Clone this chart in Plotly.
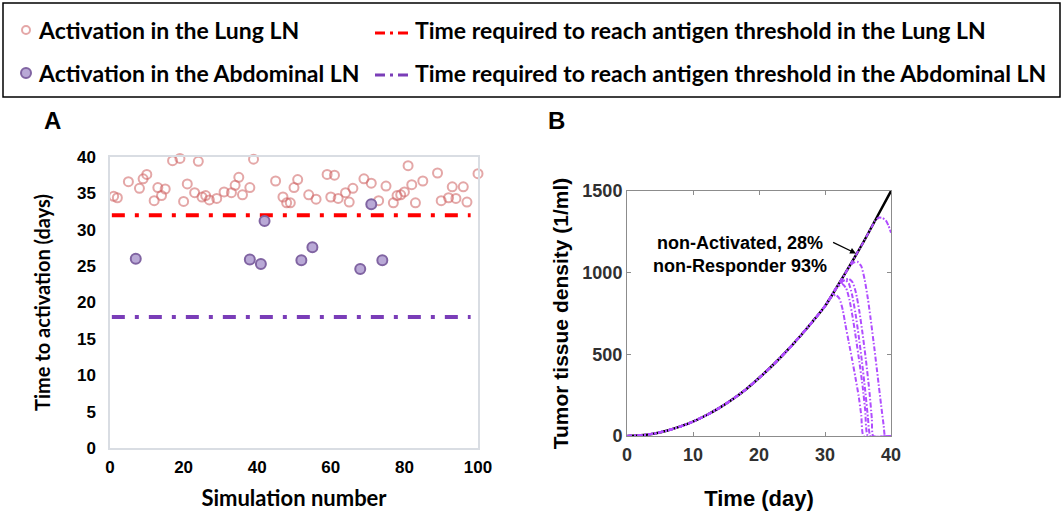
import plotly.graph_objects as go

W, H = 1063, 515

# ---------------- Panel A data ----------------
lung_sim = [1, 2, 5, 8, 9, 10, 12, 13, 14, 15, 17, 19, 20, 21, 23, 24, 25, 26, 27, 29,
            31, 33, 34, 35, 36, 38, 39, 45, 47, 48, 49, 50, 51, 54, 56, 59, 60, 61, 62, 64,
            65, 66, 69, 71, 73, 75, 77, 78, 79, 80, 81, 82, 83, 85, 89, 90, 92, 93, 94, 96,
            97, 100]
lung_days = [34.6, 34.4, 36.6, 35.7, 37.0, 37.6, 34.0, 35.8, 34.7, 35.6,
             39.5, 39.8, 33.9, 36.3, 35.1, 39.4, 34.5, 34.7, 34.1, 34.3,
             35.2, 35.1, 36.1, 37.2, 34.8, 35.8, 39.7, 36.7, 34.5, 33.7,
             33.7, 35.8, 36.9, 34.8, 34.2, 37.6, 34.5, 37.5, 34.3, 35.1,
             33.8, 35.7, 37.0, 36.4, 34.0, 36.0, 33.7, 34.7, 34.8, 35.2,
             38.8, 36.2, 33.7, 36.7, 37.8, 34.0, 34.4, 35.9, 34.3, 35.9,
             33.8, 37.7]
abd_sim = [7, 38, 41, 42, 52, 55, 68, 71, 74]
abd_days = [26.0, 25.9, 25.3, 31.2, 25.8, 27.6, 24.6, 33.5, 25.8]
threshold_sim = [0.5, 98]
lung_threshold = 32
abd_threshold = 18

# ---------------- Panel B data ----------------
time_black = [0, 2, 4, 6, 8, 10, 12, 14, 16, 18, 20, 22, 24, 26, 28, 30, 32, 34, 36, 38, 40]
tumor_black = [0, 4, 14, 32, 57, 88, 127, 172, 225, 285, 355, 430, 512, 600, 695, 795,
               925, 1060, 1200, 1350, 1500]
# responder curves: shared growth (t <= 30) then individual tails
tail_a_t = [30.5, 31.0, 31.6, 32.2, 32.7, 33.1, 33.6, 34.1, 34.6, 35.1, 35.5, 35.85, 40]
tail_a_v = [825, 850, 865, 840, 770, 680, 575, 470, 360, 245, 125, 0, 0]
tail_b_t = [31.0, 31.6, 32.6, 33.2, 33.7, 34.2, 34.7, 35.2, 35.7, 36.1, 36.5, 40]
tail_b_v = [860, 900, 930, 905, 835, 725, 595, 455, 305, 155, 0, 0]
tail_c_t = [31.0, 31.8, 32.4, 33.1, 33.6, 34.1, 34.6, 35.1, 35.6, 36.1, 36.5, 36.9, 40]
tail_c_v = [860, 910, 940, 955, 935, 865, 755, 615, 455, 275, 115, 0, 0]
tail_d_t = [31.5, 32.2, 32.9, 33.6, 34.2, 34.7, 35.2, 35.7, 36.2, 36.7, 37.1, 37.3, 40]
tail_d_v = [895, 930, 955, 962, 940, 875, 765, 625, 465, 285, 105, 0, 0]
tail_e_t = [32.0, 33.0, 33.6, 34.2, 34.9, 35.5, 36.0, 36.5, 36.9, 37.5, 38.0, 38.5, 38.9, 39.1, 40]
tail_e_v = [925, 990, 1030, 1058, 1067, 1040, 960, 840, 722, 530, 360, 190, 60, 0, 0]
tail_f_t = [32, 34, 36, 37.0, 37.6, 38.2, 38.7, 39.2, 39.6, 40]
tail_f_v = [925, 1060, 1200, 1275, 1318, 1338, 1335, 1320, 1290, 1245]
tails = [(tail_a_t, tail_a_v), (tail_b_t, tail_b_v), (tail_c_t, tail_c_v),
         (tail_d_t, tail_d_v), (tail_e_t, tail_e_v), (tail_f_t, tail_f_v)]

LUNG_C = "rgba(205,95,95,0.55)"
ABD_LINE = "#8064a2"
ABD_FILL = "#b9a9d6"
RED = "#ff0000"
PURPLE = "#7a3db8"
VIOLET = "#b04dff"
A_DASH = "13px,10px,4px,10px"
ARIAL = "Arial, Liberation Sans"


def px(x):
    return x / W


def py(y):
    return 1 - y / H


fig = go.Figure()

# Panel A
fig.add_trace(go.Scatter(x=threshold_sim, y=[lung_threshold] * 2, mode="lines",
                         line=dict(color=RED, width=4, dash=A_DASH),
                         xaxis="x", yaxis="y", showlegend=False))
fig.add_trace(go.Scatter(x=threshold_sim, y=[abd_threshold] * 2, mode="lines",
                         line=dict(color=PURPLE, width=4, dash=A_DASH),
                         xaxis="x", yaxis="y", showlegend=False))
fig.add_trace(go.Scatter(x=lung_sim, y=lung_days, mode="markers",
                         marker=dict(symbol="circle-open", size=9, color=LUNG_C,
                                     line=dict(width=2, color=LUNG_C)),
                         cliponaxis=False, xaxis="x", yaxis="y", showlegend=False))
fig.add_trace(go.Scatter(x=abd_sim, y=abd_days, mode="markers",
                         marker=dict(symbol="circle", size=10, color=ABD_FILL,
                                     line=dict(width=2, color=ABD_LINE)),
                         cliponaxis=False, xaxis="x", yaxis="y", showlegend=False))

# Panel B
fig.add_trace(go.Scatter(x=time_black, y=tumor_black, mode="lines",
                         line=dict(color="black", width=2.5, shape="spline", smoothing=0.6),
                         xaxis="x2", yaxis="y2", showlegend=False))
for tt, vv in tails:
    fig.add_trace(go.Scatter(x=time_black[:16] + tt, y=tumor_black[:16] + vv, mode="lines",
                             line=dict(color=VIOLET, width=2, dash="5px,2px,1.5px,2px",
                                       shape="spline", smoothing=0.5),
                             xaxis="x2", yaxis="y2", showlegend=False))

tickA = dict(family=ARIAL, size=17, color="black")
fig.update_layout(
    width=W, height=H, autosize=False,
    margin=dict(l=0, r=0, t=0, b=0),
    paper_bgcolor="white", plot_bgcolor="white",
    font=dict(family=ARIAL),
    showlegend=False,
    xaxis=dict(domain=[px(110), px(478)], range=[0, 100], anchor="y", automargin=False,
               tickvals=[0, 20, 40, 60, 80, 100],
               ticktext=["<b>%d</b>" % v for v in [0, 20, 40, 60, 80, 100]],
               showgrid=False, zeroline=False, showline=True, linecolor="#d9dde3", linewidth=1.5,
               mirror=True, ticks="", tickfont=tickA, ticklabelstandoff=3,
               title=dict(text="<b>Simulation number</b>", standoff=14,
                          font=dict(family="Lato", size=22, color="black"))),
    yaxis=dict(domain=[py(448), py(157)], range=[0, 40], anchor="x", automargin=False,
               tickvals=list(range(0, 41, 5)),
               ticktext=["<b>%d</b>" % v for v in range(0, 41, 5)],
               showgrid=False, zeroline=False, showline=True, linecolor="#d9dde3", linewidth=1.5,
               mirror=True, ticks="", tickfont=tickA, ticklabelstandoff=9,
               title=dict(text="<b>Time to activation (days)</b>", standoff=21,
                          font=dict(family="Lato", size=20, color="black"))),
    xaxis2=dict(domain=[px(627), px(891)], range=[0, 40], anchor="y2", automargin=False,
                tickvals=[0, 10, 20, 30, 40],
                ticktext=["<b>%d</b>" % v for v in [0, 10, 20, 30, 40]],
                showgrid=False, zeroline=False, showline=True, linecolor="#8c8c8c", linewidth=1,
                mirror="ticks", ticks="inside", ticklen=4, tickcolor="#8c8c8c",
                tickfont=dict(family=ARIAL, size=18, color="#303030"), ticklabelstandoff=2,
                title=dict(text="<b>Time (day)</b>", standoff=27,
                           font=dict(family=ARIAL, size=22, color="black"))),
    yaxis2=dict(domain=[py(436), py(191)], range=[0, 1500], anchor="x2", automargin=False,
                tickvals=[0, 500, 1000, 1500],
                ticktext=["<b>%d</b>" % v for v in [0, 500, 1000, 1500]],
                showgrid=False, zeroline=False, showline=True, linecolor="#8c8c8c", linewidth=1,
                mirror="ticks", ticks="inside", ticklen=4, tickcolor="#8c8c8c",
                tickfont=dict(family=ARIAL, size=18, color="#303030"),
                title=dict(text="<b>Tumor tissue density (1/ml)</b>", standoff=8,
                           font=dict(family=ARIAL, size=21, color="black"))),
)

ann = []
# Panel letters
ann.append(dict(x=px(52), y=py(121), xref="paper", yref="paper", text="<b>A</b>",
                xanchor="center", yanchor="middle", showarrow=False,
                font=dict(family=ARIAL, size=24, color="black")))
ann.append(dict(x=px(556), y=py(121), xref="paper", yref="paper", text="<b>B</b>",
                xanchor="center", yanchor="middle", showarrow=False,
                font=dict(family=ARIAL, size=24, color="black")))
# Panel B annotation text and arrow
ann.append(dict(x=px(740), y=py(254), xref="paper", yref="paper",
                text="<b>non-Activated, 28%</b><br><b>non-Responder 93%</b>",
                xanchor="center", yanchor="middle", showarrow=False, align="center",
                font=dict(family=ARIAL, size=18, color="black")))
ann.append(dict(x=34.7, y=1118, xref="x2", yref="y2", ax=31.0, ay=1190,
                axref="x2", ayref="y2", text="", showarrow=True, arrowhead=2,
                arrowsize=1, arrowwidth=1.2, arrowcolor="black"))

# Manual legend
LEG_FONT = dict(family="Lato", size=23, color="black")
legend_rows = [
    ("Activation in the Lung LN", "Time required to reach antigen threshold in the Lung LN", 30),
    ("Activation in the Abdominal LN", "Time required to reach antigen threshold in the Abdominal LN", 73),
]
for left_text, right_text, yy in legend_rows:
    ann.append(dict(x=px(36), y=py(yy), xref="paper", yref="paper", xanchor="left",
                    yanchor="middle", text="<b>%s</b>" % left_text, showarrow=False, font=LEG_FONT))
    ann.append(dict(x=px(413), y=py(yy), xref="paper", yref="paper", xanchor="left",
                    yanchor="middle", text="<b>%s</b>" % right_text, showarrow=False, font=LEG_FONT))
fig.update_layout(annotations=ann)

shapes = []
shapes.append(dict(type="rect", xref="paper", yref="paper", x0=px(3), x1=px(1060),
                   y0=py(97), y1=py(3), line=dict(color="black", width=1.5)))
shapes.append(dict(type="circle", xref="paper", yref="paper", x0=px(22), x1=px(30),
                   y0=py(34), y1=py(26), line=dict(color=LUNG_C, width=2)))
shapes.append(dict(type="circle", xref="paper", yref="paper", x0=px(21), x1=px(31),
                   y0=py(78), y1=py(68), fillcolor=ABD_FILL, line=dict(color=ABD_LINE, width=2)))
shapes.append(dict(type="line", xref="paper", yref="paper", x0=px(375), x1=px(409),
                   y0=py(33), y1=py(33), line=dict(color=RED, width=3, dash="10px,5px,3px,5px")))
shapes.append(dict(type="line", xref="paper", yref="paper", x0=px(375), x1=px(409),
                   y0=py(75), y1=py(75), line=dict(color=PURPLE, width=3, dash="10px,5px,3px,5px")))
fig.update_layout(shapes=shapes)

fig.write_html("out.html")
